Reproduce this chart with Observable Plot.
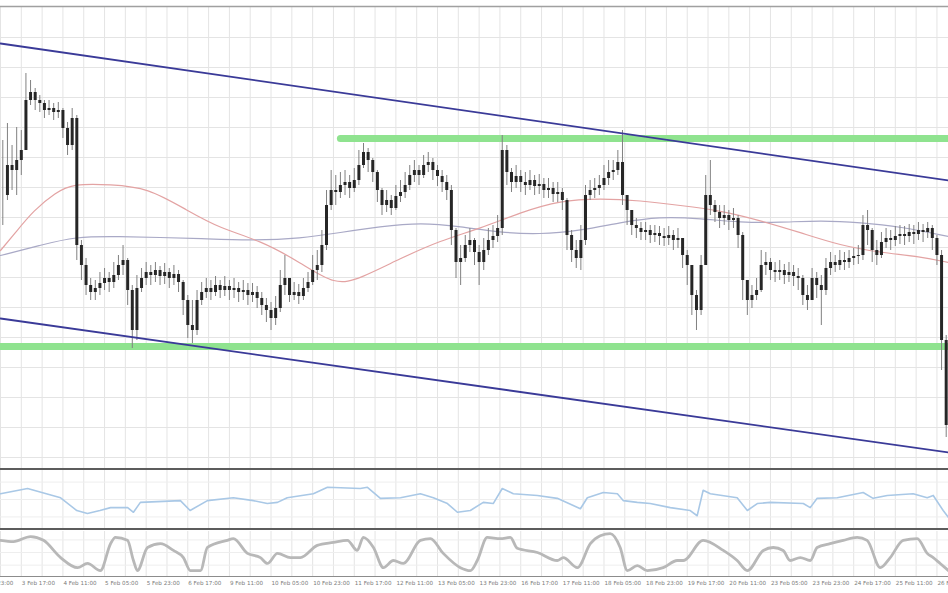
<!DOCTYPE html>
<html><head><meta charset="utf-8">
<script src="https://cdn.jsdelivr.net/npm/d3@7"></script>
<script src="https://cdn.jsdelivr.net/npm/@observablehq/plot@0.6"></script>
<style>
body{margin:0;background:#fff;}
#wrap{width:948px;height:593px;overflow:hidden;background:#fff;}
#wrap svg{display:block;overflow:visible;}
.sep{height:2px;background:#5c5c5c;}
</style></head><body><div id="wrap"></div>
<script>
// ---- price bars (2-hour bars), EUR/USD-like prices ----
const closePrices = [1.1412,1.1442,1.1437,1.1447,1.1457,1.1507,1.1515,1.1507,1.1504,1.1497,
1.1499,1.1495,1.1497,1.1479,1.1462,1.1489,1.1362,1.1342,1.1322,1.1315,
1.1319,1.1324,1.1329,1.1325,1.1332,1.1342,1.1347,1.1317,1.1277,1.1319,
1.1329,1.1335,1.1332,1.1337,1.1331,1.1335,1.1329,1.1333,1.1325,1.1307,
1.1282,1.1277,1.1307,1.1315,1.1319,1.1315,1.1322,1.1317,1.1321,1.1317,
1.1319,1.1315,1.1317,1.1312,1.1315,1.1309,1.1302,1.1297,1.1289,1.1299,
1.1322,1.1329,1.1312,1.1315,1.1311,1.1319,1.1325,1.1337,1.1342,1.1362,
1.1402,1.1417,1.1415,1.1422,1.1425,1.1419,1.1427,1.1442,1.1455,1.1447,
1.1435,1.1417,1.1402,1.1407,1.1399,1.1411,1.1415,1.1422,1.1432,1.1437,
1.1432,1.1442,1.1445,1.1437,1.1431,1.1425,1.1417,1.1377,1.1345,1.1349,
1.1362,1.1367,1.1355,1.1345,1.1357,1.1367,1.1371,1.1379,1.1457,1.1435,
1.1425,1.1431,1.1425,1.1422,1.1427,1.1421,1.1423,1.1417,1.1419,1.1413,
1.1415,1.1407,1.1372,1.1357,1.1349,1.1367,1.1412,1.1417,1.1419,1.1422,
1.1429,1.1435,1.1437,1.1445,1.1412,1.1397,1.1382,1.1379,1.1375,1.1377,
1.1372,1.1374,1.1371,1.1369,1.1372,1.1367,1.1369,1.1352,1.1342,1.1312,
1.1297,1.1342,1.1412,1.1402,1.1395,1.1389,1.1392,1.1387,1.1389,1.1372,
1.1327,1.1307,1.1312,1.1317,1.1342,1.1345,1.1337,1.1335,1.1337,1.1332,
1.1335,1.1331,1.1329,1.1312,1.1307,1.1329,1.1322,1.1317,1.1339,1.1345,
1.1342,1.1347,1.1345,1.1349,1.1351,1.1352,1.1382,1.1377,1.1357,1.1352,
1.1365,1.1369,1.1367,1.1371,1.1373,1.1371,1.1375,1.1373,1.1377,1.1375,
1.1379,1.1369,1.1352,1.1267,1.1182];
const highPrices = [1.1467,1.1484,1.1462,1.1480,1.1477,1.1534,1.1527,1.1519,1.1512,1.1507,
1.1507,1.1504,1.1505,1.1499,1.1485,1.1499,1.1492,1.1367,1.1349,1.1329,
1.1327,1.1335,1.1339,1.1335,1.1345,1.1352,1.1362,1.1349,1.1322,1.1332,
1.1339,1.1345,1.1342,1.1345,1.1341,1.1344,1.1339,1.1342,1.1337,1.1327,
1.1312,1.1307,1.1317,1.1325,1.1329,1.1327,1.1331,1.1327,1.1331,1.1327,
1.1329,1.1325,1.1327,1.1324,1.1324,1.1321,1.1315,1.1309,1.1305,1.1311,
1.1337,1.1352,1.1329,1.1325,1.1323,1.1329,1.1335,1.1352,1.1357,1.1377,
1.1417,1.1437,1.1432,1.1435,1.1437,1.1432,1.1439,1.1457,1.1464,1.1459,
1.1449,1.1437,1.1419,1.1417,1.1412,1.1422,1.1427,1.1435,1.1442,1.1447,
1.1442,1.1452,1.1455,1.1449,1.1442,1.1437,1.1432,1.1422,1.1379,1.1362,
1.1372,1.1379,1.1369,1.1362,1.1369,1.1379,1.1382,1.1392,1.1472,1.1462,
1.1439,1.1442,1.1437,1.1435,1.1437,1.1432,1.1433,1.1429,1.1429,1.1425,
1.1425,1.1419,1.1409,1.1377,1.1367,1.1382,1.1422,1.1427,1.1429,1.1432,
1.1442,1.1447,1.1447,1.1457,1.1477,1.1412,1.1397,1.1389,1.1385,1.1385,
1.1382,1.1382,1.1381,1.1379,1.1381,1.1377,1.1379,1.1369,1.1357,1.1342,
1.1317,1.1352,1.1432,1.1447,1.1407,1.1402,1.1402,1.1397,1.1399,1.1392,
1.1375,1.1327,1.1322,1.1329,1.1357,1.1355,1.1349,1.1345,1.1347,1.1343,
1.1345,1.1342,1.1339,1.1332,1.1322,1.1339,1.1335,1.1332,1.1349,1.1355,
1.1352,1.1357,1.1355,1.1357,1.1359,1.1362,1.1392,1.1397,1.1379,1.1367,
1.1375,1.1379,1.1377,1.1381,1.1382,1.1381,1.1383,1.1382,1.1385,1.1383,
1.1385,1.1382,1.1372,1.1357,1.1272];
const lowPrices = [1.1382,1.1407,1.1417,1.1412,1.1432,1.1457,1.1502,1.1497,1.1495,1.1489,
1.1492,1.1487,1.1489,1.1469,1.1452,1.1457,1.1347,1.1327,1.1312,1.1307,
1.1307,1.1312,1.1317,1.1315,1.1319,1.1327,1.1332,1.1302,1.1259,1.1267,
1.1315,1.1322,1.1322,1.1325,1.1322,1.1323,1.1319,1.1322,1.1315,1.1292,
1.1269,1.1264,1.1272,1.1302,1.1309,1.1307,1.1311,1.1309,1.1311,1.1307,
1.1309,1.1305,1.1307,1.1302,1.1305,1.1299,1.1292,1.1285,1.1277,1.1282,
1.1295,1.1312,1.1305,1.1307,1.1303,1.1307,1.1315,1.1322,1.1327,1.1335,
1.1357,1.1397,1.1402,1.1409,1.1412,1.1409,1.1415,1.1422,1.1439,1.1435,
1.1425,1.1405,1.1392,1.1395,1.1392,1.1397,1.1405,1.1409,1.1417,1.1425,
1.1422,1.1429,1.1435,1.1427,1.1421,1.1415,1.1407,1.1362,1.1329,1.1322,
1.1345,1.1355,1.1342,1.1322,1.1337,1.1352,1.1359,1.1365,1.1372,1.1422,
1.1415,1.1419,1.1415,1.1412,1.1417,1.1412,1.1413,1.1409,1.1409,1.1405,
1.1405,1.1397,1.1357,1.1345,1.1339,1.1337,1.1362,1.1407,1.1409,1.1412,
1.1417,1.1422,1.1427,1.1432,1.1402,1.1382,1.1372,1.1369,1.1367,1.1367,
1.1364,1.1365,1.1362,1.1361,1.1362,1.1357,1.1359,1.1339,1.1322,1.1292,
1.1277,1.1292,1.1342,1.1392,1.1385,1.1379,1.1382,1.1377,1.1379,1.1359,
1.1307,1.1292,1.1299,1.1307,1.1315,1.1332,1.1327,1.1325,1.1327,1.1323,
1.1325,1.1321,1.1317,1.1302,1.1297,1.1312,1.1309,1.1282,1.1312,1.1332,
1.1335,1.1337,1.1337,1.1339,1.1342,1.1343,1.1347,1.1362,1.1345,1.1342,
1.1349,1.1359,1.1357,1.1361,1.1363,1.1362,1.1365,1.1363,1.1367,1.1365,
1.1369,1.1357,1.1342,1.1237,1.1170];
const barHoursStep = 2;

// ---- moving averages ----
const redMaHours = [0,6.5,14.3,23.8,31.6,47.6,63.6,80.8,95.1,112.4,129.7,144.8,155.6,172.9,190.2,207.5,224.8,242.1,259.4,276.7,294,311.3,328.6,345.9,363.2,380.5,397.8,410];
const redMaValues = [1.1357,1.1375,1.1397,1.1415,1.1424,1.1423,1.1420,1.1397,1.1379,1.1367,1.1345,1.1322,1.1329,1.1349,1.1367,1.1379,1.1395,1.1407,1.1409,1.1407,1.1402,1.1397,1.1387,1.1375,1.1362,1.1355,1.1351,1.1345];
const grayMaHours = [0,17,32,52,69,86,108,130,147,164,182,199,216,233,251,268,285,303,320,337,355,372,389,410];
const grayMaValues = [1.1352,1.1362,1.1371,1.1371,1.1370,1.1369,1.1367,1.1369,1.1375,1.1381,1.1385,1.1381,1.1375,1.1373,1.1377,1.1385,1.1391,1.1389,1.1385,1.1385,1.1387,1.1385,1.1381,1.1371];

// ---- trend channel and horizontal levels ----
const channelHours = [0, 410];
const channelUpper = [1.1564, 1.1427];
const channelLower = [1.1289, 1.1155];
const supportLevel = 1.1261;
const supportHours = [0, 410];
const resistanceLevel = 1.1469;
const resistanceHours = [147, 410];

// ---- oscillators ----
const rsiHours = [0,11.7,26,33,37.6,43,47.6,55,57.5,60.5,77.8,82,89.5,100.7,109.4,115.4,119.8,124,135.3,141.4,155.6,158.7,164.3,173,181.6,187.2,193.3,197.6,203.2,208.8,213.1,217,221.8,232.2,240.8,250.8,253.8,260.7,266.8,269.4,275.4,281,289.7,298.3,301.3,303.9,307,318.6,323,327.3,332.9,347.2,350.2,353.2,361.9,373.1,377.4,383.5,394.7,400.8,403.4,407.7,410];
const rsiValues = [60,69,53,31,26,31,36,36,28,45,48,31,48,53,48,43,45,53,60,71,69,71,52,53,60,53,43,28,31,45,43,69,60,57,52,34,53,62,60,48,45,43,36,31,22,66,60,53,31,43,45,43,36,52,53,62,52,57,60,53,57,31,19];
const stochHours = [0,5.6,13,18.6,26,33.3,37.6,43.2,47.6,49.7,54.9,57.5,59.2,63.6,69.2,74.8,79.1,82.1,86.5,89.5,98.1,100.7,106.8,112.4,115.4,119.8,125.4,129.7,137,144,150,154.3,156.9,161.3,165.6,169.9,174.2,181.6,185.9,191.5,198.9,203.2,206.2,210.5,216.2,220.5,223.5,232.2,240.8,243.4,249.5,255.1,259.4,263.7,268,271.1,275.4,279.7,286.6,292.7,295.3,303.9,312.6,318.6,323,329.9,334.2,338.5,341.5,345.9,350.2,353.2,358.8,364.5,370.5,374.8,380.5,384.8,390.4,396.5,400.8,403.4,406.4,410];
const stochValues = [79,76,88,79,38,14,24,7,71,86,79,31,7,62,71,55,38,7,7,62,79,83,48,38,24,48,38,38,67,74,79,55,86,62,14,31,24,79,83,48,14,7,31,86,83,86,60,50,31,38,14,71,90,95,62,7,19,7,14,31,31,79,55,31,7,55,62,55,31,38,31,62,71,79,86,79,14,38,79,83,48,38,24,7];

// ---- time axis ----
const tickHours = [-9,9,27,45,63,81,99,117,135,153,171,189,207,225,243,261,279,297,315,333,351,369,387,405];
const tickLabels = ["2 Feb 23:00","3 Feb 17:00","4 Feb 11:00","5 Feb 05:00","5 Feb 23:00","6 Feb 17:00","9 Feb 11:00","10 Feb 05:00","10 Feb 23:00","11 Feb 17:00","12 Feb 11:00","13 Feb 05:00","13 Feb 23:00","16 Feb 17:00","17 Feb 11:00","18 Feb 05:00","18 Feb 23:00","19 Feb 17:00","20 Feb 11:00","23 Feb 05:00","23 Feb 23:00","24 Feb 17:00","25 Feb 11:00","26 Feb 05:00"];
const gridHours = d3.range(0, 411, 9);
const gridPrices = d3.range(1.1150, 1.1590, 0.003);
const priceDomain = [1.1139, 1.1601];
const hourDomain = [0, 410];

// ---- build ----
const bars = closePrices.map((c, i) => ({
  h: barHoursStep * i + 1,
  open: i ? closePrices[i - 1] : c,
  close: c, high: highPrices[i], low: lowPrices[i]
}));
const pairs = (xs, ys) => xs.map((x, i) => [x, ys[i]]);
const W = 948;
const gridColor = "#e4e4e4";
const font = {fontFamily: "'DejaVu Sans', sans-serif", background: "transparent"};

const main = Plot.plot({
  width: W, height: 468, marginTop: 6, marginBottom: 0, marginLeft: 0, marginRight: 0,
  style: font,
  x: {domain: hourDomain, axis: null},
  y: {domain: priceDomain, axis: null},
  marks: [
    Plot.ruleY(gridPrices, {stroke: gridColor}),
    Plot.ruleX(gridHours, {stroke: gridColor}),
    Plot.ruleY([priceDomain[1]], {stroke: "#a0a0a0", strokeWidth: 1.5}),
    Plot.line(pairs(supportHours, [supportLevel, supportLevel]), {stroke: "#8fe38f", strokeWidth: 7}),
    Plot.line(pairs(resistanceHours, [resistanceLevel, resistanceLevel]), {stroke: "#8fe38f", strokeWidth: 7}),
    Plot.line(pairs(grayMaHours, grayMaValues), {stroke: "#a9a9c6", strokeWidth: 1.2, curve: "basis"}),
    Plot.line(pairs(redMaHours, redMaValues), {stroke: "#e3a3a3", strokeWidth: 1.2, curve: "basis"}),
    Plot.ruleX(bars, {x: "h", y1: "low", y2: "high", stroke: "#808080", strokeWidth: 1}),
    Plot.ruleX(bars, {x: "h", y1: "open", y2: "close", stroke: "#262626", strokeWidth: 3}),
    Plot.line(pairs(channelHours, channelUpper), {stroke: "#3a3a98", strokeWidth: 1.8}),
    Plot.line(pairs(channelHours, channelLower), {stroke: "#3a3a98", strokeWidth: 1.8})
  ]
});

const rsi = Plot.plot({
  width: W, height: 58, margin: 0, style: font,
  x: {domain: hourDomain, axis: null},
  y: {domain: [0, 100], axis: null},
  marks: [
    Plot.ruleX(gridHours, {stroke: gridColor}),
    Plot.ruleY([20, 50, 80], {stroke: "#eeeeee"}),
    Plot.line(pairs(rsiHours, rsiValues), {stroke: "#a9c8e6", strokeWidth: 1.6})
  ]
});

const stoch = Plot.plot({
  width: W, height: 63, marginTop: 1, marginBottom: 17, marginLeft: 0, marginRight: 0, style: font,
  x: {domain: hourDomain, axis: null},
  y: {domain: [-7, 100], axis: null},
  marks: [
    Plot.ruleX(gridHours, {stroke: gridColor}),
    Plot.ruleY([20, 50, 80], {stroke: "#eeeeee"}),
    Plot.line(pairs(stochHours, stochValues), {stroke: "#b8b8b8", strokeWidth: 2.8, curve: "monotone-x"}),
    Plot.ruleY([-7], {stroke: "#8c8c8c", strokeWidth: 1}),
    Plot.text(tickHours, {x: d => d, text: (d, i) => tickLabels[i], frameAnchor: "bottom", dy: 8, dx: 0.5,
      textAnchor: "start", fontSize: 5.6, fill: "#7a7a7a"})
  ]
});

const wrap = document.getElementById("wrap");
const sep = () => { const d = document.createElement("div"); d.className = "sep"; return d; };
wrap.append(main, sep(), rsi, sep(), stoch);
</script>
</body></html>
